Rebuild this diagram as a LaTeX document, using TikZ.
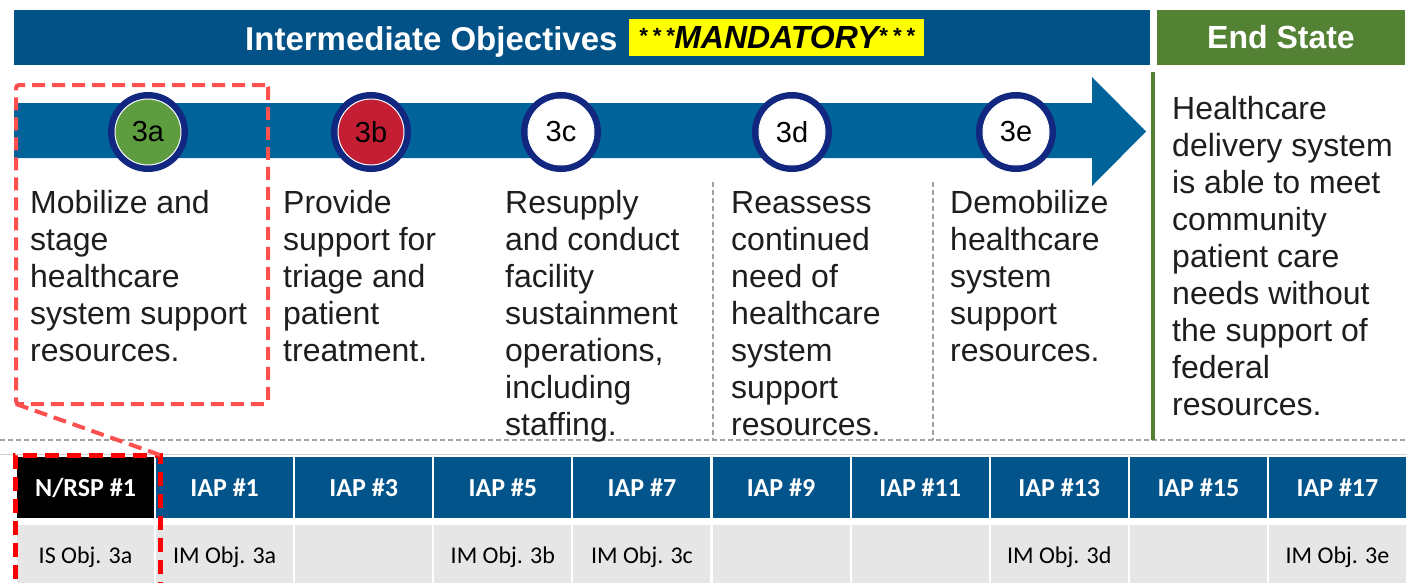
\documentclass[tikz,border=0pt]{standalone}
\usepackage{fontspec}
\setmainfont{Liberation Sans}
\newfontfamily\calfont{Carlito}
\definecolor{hdrblue}{RGB}{2,82,136}
\definecolor{arrowblue}{RGB}{0,99,153}
\definecolor{tblblue}{RGB}{2,84,138}
\definecolor{endgreen}{RGB}{84,130,53}
\definecolor{ringnavy}{RGB}{18,40,128}
\definecolor{cgreen}{RGB}{94,156,64}
\definecolor{cred}{RGB}{196,30,52}
\definecolor{cellgray}{RGB}{230,230,230}
\definecolor{dashgray}{RGB}{160,160,160}
\definecolor{redlight}{RGB}{255,80,80}
\definecolor{redstrong}{RGB}{255,0,0}
\definecolor{hlyellow}{RGB}{255,255,0}
\definecolor{txtcol}{RGB}{30,30,30}
\newcommand{\coltext}[1]{\parbox[t]{260pt}{\raggedright\fontsize{32}{37}\selectfont #1}}
\newcommand{\smallstars}{\raisebox{5pt}{\fontsize{22}{22}\selectfont *\kern5pt*\kern5pt*}}
\begin{document}
\begin{tikzpicture}[x=1pt,y=-1pt,
  bar/.style={anchor=north west, inner sep=0pt, outer sep=0pt},
  circ/.style={circle, draw=ringnavy, line width=7pt, minimum size=73pt, inner sep=0pt,
    font=\fontsize{29}{32}\selectfont, text=black},
  colt/.style={anchor=base west, inner sep=0pt, text=txtcol},
  cellh/.style={fill=tblblue, minimum width=137pt, minimum height=61pt, inner sep=0pt,
    text=white, font=\calfont\bfseries\fontsize{26}{30}\selectfont},
  cellb/.style={fill=cellgray, minimum width=137pt, minimum height=65pt, inner sep=0pt,
    text=black, font=\calfont\fontsize{24}{28}\selectfont},
  sepline/.style={dashgray, line width=1.3pt, dash pattern=on 5pt off 3pt},
  selbox/.style={draw=redlight, line width=4pt, dash pattern=on 13pt off 7pt, rounded corners=3pt, inner sep=0pt},
  selboxb/.style={draw=redstrong, line width=5pt, dash pattern=on 14pt off 8pt, inner sep=0pt}
]
\useasboundingbox (0,0) rectangle (1407,582);
\clip (0,0) rectangle (1407,582);
\fill[white] (0,0) rectangle (1407,582);

% header bars
\node[bar, fill=hdrblue, minimum width=1136pt, minimum height=55pt] (hdr) at (14,10) {};
\node[anchor=base west, inner sep=0pt, text=white, font=\bfseries\fontsize{33}{36}\selectfont] (hdrtxt) at (245,50) {Intermediate Objectives};
\node[bar, fill=hlyellow, minimum width=295pt, minimum height=37pt, font=\bfseries\itshape\fontsize{32}{34}\selectfont, text=black] (mand) at (629,19) {\smallstars MANDATORY\smallstars};
\node[bar, fill=endgreen, minimum width=248pt, minimum height=55pt, text=white, font=\bfseries\fontsize{32}{36}\selectfont] (endst) at (1157,10) {End State};

% arrow
\fill[arrowblue] (14,103) -- (1092,103) -- (1092,77) -- (1146,131.5) -- (1092,186) -- (1092,158) -- (14,158) -- cycle;

% circles
\foreach \nm/\cx/\fc in {3a/148/cgreen, 3b/371/cred, 3c/561/white, 3d/792/white, 3e/1016/white}{
  \node[circ, fill=\fc] (c\nm) at (\cx,132) {\nm};
  \draw[white, line width=1pt] (c\nm.center) circle (33pt);
}

% separators
\draw[sepline] (0,440) -- (1407,440);
\draw[sepline] (713,182) -- (713,440);
\draw[sepline] (933,182) -- (933,440);
\draw[endgreen, line width=4pt] (1153,72) -- (1153,440);

% column texts
\node[colt] (t3a) at (30,213) {\coltext{Mobilize and\\stage\\healthcare\\system support\\resources.}};
\node[colt] (t3b) at (283,213) {\coltext{Provide\\support for\\triage and\\patient\\treatment.}};
\node[colt] (t3c) at (505,213) {\coltext{Resupply\\and conduct\\facility\\sustainment\\operations,\\including\\staffing.}};
\node[colt] (t3d) at (731,213) {\coltext{Reassess\\continued\\need of\\healthcare\\system\\support\\resources.}};
\node[colt] (t3e) at (950,213) {\coltext{Demobilize\\healthcare\\system\\support\\resources.}};
\node[colt] (tend) at (1172,119) {\coltext{Healthcare\\delivery system\\is able to meet\\community\\patient care\\needs without\\the support of\\federal\\resources.}};

% table
\draw[black!18, line width=1pt] (0,454) -- (1407,454);
\node[cellh, fill=black] (h0) at (85.55,487.5) {N/RSP \#1};
\node[cellb] (b0) at (85.55,557.5) {IS Obj. 3a};
\foreach \i/\h/\b in {1/1/IM Obj. 3a, 2/3/{}, 3/5/IM Obj. 3b, 4/7/IM Obj. 3c, 5/9/{}, 6/11/{}, 7/13/IM Obj. 3d, 8/15/{}, 9/17/IM Obj. 3e}{
  \node[cellh] (h\i) at ({85.55+139.1*\i},487.5) {IAP \#\h};
  \node[cellb] (b\i) at ({85.55+139.1*\i},557.5) {\b};
}

% selection boxes
\node[selbox, bar, minimum width=252pt, minimum height=319pt] (sel) at (16,85) {};
\node[selboxb, bar, minimum width=145pt, minimum height=150pt] (selb) at (15,455) {};
\draw[redlight, line width=4pt, dash pattern=on 13pt off 7pt] (sel.south west) -- (selb.north east);
\end{tikzpicture}
\end{document}
